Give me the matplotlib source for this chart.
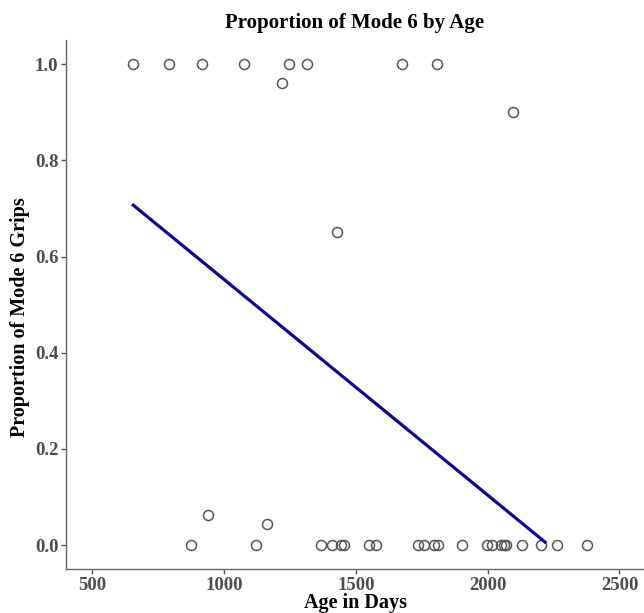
import matplotlib.pyplot as plt

plt.rcParams['font.family'] = ['Liberation Serif', 'DejaVu Serif']

# data
age_days = [656, 792, 915, 1077, 1245, 1314, 1676, 1808, 1220, 2095, 1428,
            874, 941, 1123, 1162, 1368, 1411, 1443, 1457, 1550, 1578,
            1736, 1760, 1798, 1811, 1903, 1999, 2018, 2051, 2063, 2071,
            2129, 2203, 2262, 2376]
prop_mode6 = [1.0, 1.0, 1.0, 1.0, 1.0, 1.0, 1.0, 1.0, 0.962, 0.900, 0.651,
              0.0, 0.062, 0.0, 0.043, 0.0, 0.0, 0.0, 0.0, 0.0, 0.0,
              0.0, 0.0, 0.0, 0.0, 0.0, 0.0, 0.0, 0.0, 0.0, 0.0,
              0.0, 0.0, 0.0, 0.0]
fit_x = [656, 2218]
fit_y = [0.707, 0.006]

fig = plt.figure(figsize=(6.44, 6.13), dpi=100)
ax = fig.add_axes([0.1025, 0.0713, 0.8975, 0.8634])

ax.plot(age_days, prop_mode6, 'o', ms=7.2, mfc='none', mec='#555555',
        mew=1.1, zorder=2)
ax.plot(fit_x, fit_y, '-', color='#0a0a96', lw=2.3, zorder=3)

ax.set_xlim(401, 2593)
ax.set_ylim(-0.0505, 1.0505)
ax.set_xticks([500, 1000, 1500, 2000, 2500])
ax.set_yticks([0.0, 0.2, 0.4, 0.6, 0.8, 1.0])
ax.set_yticklabels(['0.0', '0.2', '0.4', '0.6', '0.8', '1.0'])

for s in ('top', 'right'):
    ax.spines[s].set_visible(False)
for s in ('left', 'bottom'):
    ax.spines[s].set_color('#666666')
    ax.spines[s].set_linewidth(1.0)
ax.tick_params(colors='#555555', length=3.5, width=1.0, labelsize=13.5,
               pad=2)
for lab in ax.get_xticklabels() + ax.get_yticklabels():
    lab.set_fontweight('bold')
    lab.set_color('#4d4d4d')

ax.set_xlabel('Age in Days', fontsize=14.5, fontweight='bold', labelpad=-1)
ax.set_ylabel('Proportion of Mode 6 Grips', fontsize=14.5, fontweight='bold')
ax.yaxis.set_label_coords(-0.062, 0.476)
ax.set_title('Proportion of Mode 6 by Age', fontsize=15, fontweight='bold',
             pad=9)

fig.savefig('out.png', dpi=100)
